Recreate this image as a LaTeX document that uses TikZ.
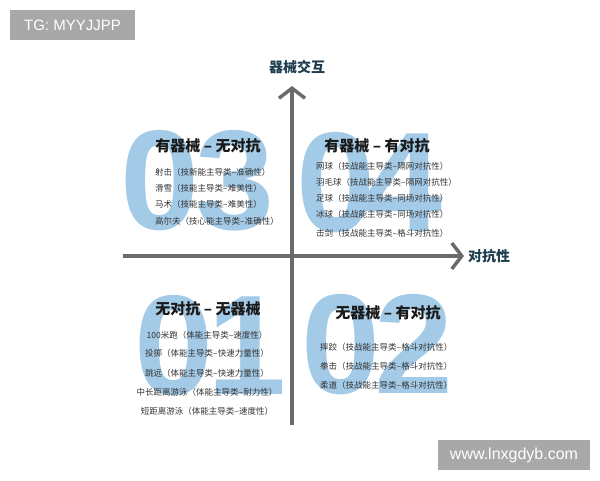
\documentclass[tikz,border=0pt]{standalone}
\usepackage{fontspec}
\setmainfont{Liberation Sans}
\newfontfamily\cjk{Noto Sans CJK SC}
\usetikzlibrary{arrows.meta}
\definecolor{numblue}{HTML}{A3CAE6}
\definecolor{axisgray}{HTML}{6B6B6B}
\definecolor{labteal}{HTML}{1C3D4E}
\definecolor{markgray}{HTML}{A8A8A8}
\tikzset{
  num/.style={anchor=base west,inner sep=0pt,text=numblue,font=\bfseries\fontsize{142}{142}\selectfont},
  ttl/.style={inner sep=0pt,text=black!90,font=\cjk\bfseries\fontsize{15}{18}\selectfont},
  item/.style={anchor=west,inner sep=0pt,text=black!80,font=\cjk\fontsize{8.5}{10}\selectfont},
  axislab/.style={inner sep=0pt,text=labteal,font=\cjk\bfseries\fontsize{14}{16}\selectfont},
  wmark/.style={fill=markgray,text=white,inner sep=0pt,font=\fontsize{15}{18}\selectfont},
  axis/.style={axisgray,line width=3.5pt,-{Straight Barb[length=10pt,width=26pt]}}
}
\begin{document}
\begin{tikzpicture}[x=1pt,y=-1pt]
    \useasboundingbox (0,0) rectangle (600,480);
    % big quadrant numbers
    \node[num] (n03) at (120,229) {0\kern-4pt3};
    \node[num] (n04) at (296,231) {0\kern-12pt4};
    \node[num] (n01) at (134,394) {0\kern-6pt1};
    \node[num] (n02) at (301,393) {0\kern-6pt2};
    % axes
    \coordinate (ybot) at (292,425);
    \coordinate (ytop) at (292,86);
    \coordinate (xleft) at (123,256);
    \coordinate (xright) at (464,256);
    \draw[axis] (ybot) -- (ytop);
    \draw[axis] (xleft) -- (xright);
    \node[axislab] (ylab) at (297,67) {器械交互};
    \node[axislab,anchor=west] (xlab) at (468,256) {对抗性};
    % quadrant 03
    \node[ttl] (t03) at (208,146) {有器械 – 无对抗};
    \node[item] (a1) at (155,172) {射击（技新能主导类–准确性）};
    \node[item] (a2) at (155,188) {滑雪（技能主导类–难美性）};
    \node[item] (a3) at (155,204) {马术（技能主导类–难美性）};
    \node[item] (a4) at (155,221) {高尔夫（技心能主导类–准确性）};
    % quadrant 04
    \node[ttl] (t04) at (377,146) {有器械 – 有对抗};
    \node[item] (b1) at (316,166) {网球（技战能主导类–隔网对抗性）};
    \node[item] (b2) at (316,182) {羽毛球（技战能主导类–隔网对抗性）};
    \node[item] (b3) at (316,198) {足球（技战能主导类–同场对抗性）};
    \node[item] (b4) at (316,214) {冰球（技战能主导类–同场对抗性）};
    \node[item] (b5) at (316,233) {击剑（技战能主导类–格斗对抗性）};
    % quadrant 01
    \node[ttl] (t01) at (208,309) {无对抗 – 无器械};
    \node[item,anchor=center] (c1) at (207,335) {100米跑（体能主导类–速度性）};
    \node[item,anchor=center] (c2) at (207,353) {投掷（体能主导类–快速力量性）};
    \node[item,anchor=center] (c3) at (207,373) {跳远（体能主导类–快速力量性）};
    \node[item,anchor=center] (c4) at (207,392) {中长距离游泳（体能主导类–耐力性）};
    \node[item,anchor=center] (c5) at (207,411) {短距离游泳（体能主导类–速度性）};
    % quadrant 02
    \node[ttl] (t02) at (388,313) {无器械 – 有对抗};
    \node[item] (d1) at (320,347) {摔跤（技战能主导类–格斗对抗性）};
    \node[item] (d2) at (320,366) {拳击（技战能主导类–格斗对抗性）};
    \node[item] (d3) at (320,385) {柔道（技战能主导类–格斗对抗性）};
    % watermarks
    \node[wmark,minimum width=125pt,minimum height=30pt] (tg) at (72.5,25) {TG: MYYJJPP};
    \node[wmark,minimum width=152pt,minimum height=30pt,font=\fontsize{16}{18}\selectfont] (site) at (514,455) {www.lnxgdyb.com};
\end{tikzpicture}
\end{document}
